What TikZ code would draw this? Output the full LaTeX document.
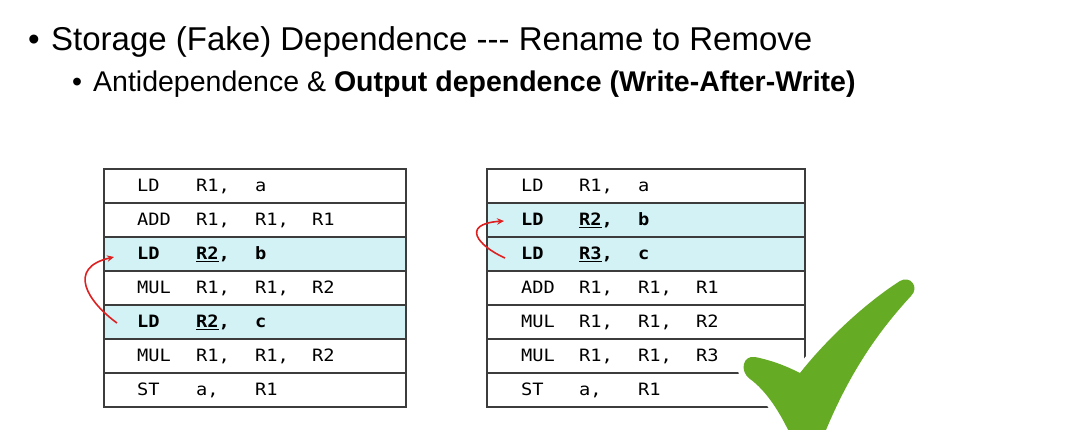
\documentclass[tikz,border=0pt]{standalone}
\usepackage{fontspec}
\setmainfont{Liberation Sans}
\newfontfamily\codefont{DejaVu Sans Mono}[FakeStretch=1.1]
\usetikzlibrary{arrows.meta}

\definecolor{gridline}{RGB}{60,60,60}
\definecolor{hilite}{RGB}{210,242,246}
\definecolor{arrowred}{RGB}{222,32,32}
\definecolor{checkgreen}{RGB}{101,171,36}

\tikzset{
  rowbox/.style={draw=gridline, line width=1.1pt, minimum height=34pt, inner sep=0pt},
  plainrow/.style={rowbox, fill=white},
  hotrow/.style={rowbox, fill=hilite},
  code/.style={anchor=base west, inner sep=0pt, font=\codefont\fontsize{17}{19}\selectfont},
  hotcode/.style={code, font=\codefont\bfseries\fontsize{17}{19}\selectfont},
  heading/.style={anchor=base west, inner sep=0pt},
  depline/.style={draw=arrowred, line width=1.6pt, -{Stealth[length=7pt,width=6.5pt]}},
}

\begin{document}
\begin{tikzpicture}[x=1pt, y=-1pt]
\useasboundingbox (0,0) rectangle (1080,430);
\clip (0,0) rectangle (1080,430);
\fill[white] (0,0) rectangle (1080,430);

% headings
\node[heading, font=\fontsize{33}{38}\selectfont] (b1) at (28,51) {•};
\node[heading, font=\fontsize{33}{38}\selectfont] (title) at (51,51)
  {Storage (Fake) Dependence \hbox{-}\hbox{-}\hbox{-} Rename to Remove};
\node[heading, font=\fontsize{28.5}{34}\selectfont] (b2) at (72,92) {•};
\node[heading, font=\fontsize{28.5}{34}\selectfont] (sub) at (93,92)
  {Antidependence \& \textbf{Output dependence (Write-After-Write)}};

% original code sequence
\begin{scope}[every node/.append style={minimum width=302pt}]
  \node[plainrow] (L1) at (255,186) {};
  \node[plainrow] (L2) at (255,220) {};
  \node[hotrow]   (L3) at (255,254) {};
  \node[plainrow] (L4) at (255,288) {};
  \node[hotrow]   (L5) at (255,322) {};
  \node[plainrow] (L6) at (255,356) {};
  \node[plainrow] (L7) at (255,390) {};
\end{scope}

\node[code] (l1a) at (137,192) {LD};  \node[code] (l1b) at (196,192) {R1,}; \node[code] (l1c) at (255,192) {a};
\node[code] (l2a) at (137,226) {ADD}; \node[code] (l2b) at (196,226) {R1,}; \node[code] (l2c) at (255,226) {R1,}; \node[code] (l2d) at (312,226) {R1};
\node[hotcode] (l3a) at (137,260) {LD}; \node[hotcode] (l3b) at (196,260) {\underline{R2},}; \node[hotcode] (l3c) at (255,260) {b};
\node[code] (l4a) at (137,294) {MUL}; \node[code] (l4b) at (196,294) {R1,}; \node[code] (l4c) at (255,294) {R1,}; \node[code] (l4d) at (312,294) {R2};
\node[hotcode] (l5a) at (137,328) {LD}; \node[hotcode] (l5b) at (196,328) {\underline{R2},}; \node[hotcode] (l5c) at (255,328) {c};
\node[code] (l6a) at (137,362) {MUL}; \node[code] (l6b) at (196,362) {R1,}; \node[code] (l6c) at (255,362) {R1,}; \node[code] (l6d) at (312,362) {R2};
\node[code] (l7a) at (137,396) {ST};  \node[code] (l7b) at (196,396) {a,};  \node[code] (l7c) at (255,396) {R1};

\coordinate (lfrom) at (117,323);
\coordinate (lto) at (114,257);
\draw[depline] (lfrom) .. controls (88,302) and (66,268) .. (lto);

% renamed code sequence
\begin{scope}[every node/.append style={minimum width=318pt}]
  \node[plainrow] (R1) at (646,186) {};
  \node[hotrow]   (R2) at (646,220) {};
  \node[hotrow]   (R3) at (646,254) {};
  \node[plainrow] (R4) at (646,288) {};
  \node[plainrow] (R5) at (646,322) {};
  \node[plainrow] (R6) at (646,356) {};
  \node[plainrow] (R7) at (646,390) {};
\end{scope}

\node[code] (r1a) at (521,192) {LD};  \node[code] (r1b) at (579,192) {R1,}; \node[code] (r1c) at (638,192) {a};
\node[hotcode] (r2a) at (521,226) {LD}; \node[hotcode] (r2b) at (579,226) {\underline{R2},}; \node[hotcode] (r2c) at (638,226) {b};
\node[hotcode] (r3a) at (521,260) {LD}; \node[hotcode] (r3b) at (579,260) {\underline{R3},}; \node[hotcode] (r3c) at (638,260) {c};
\node[code] (r4a) at (521,294) {ADD}; \node[code] (r4b) at (579,294) {R1,}; \node[code] (r4c) at (638,294) {R1,}; \node[code] (r4d) at (696,294) {R1};
\node[code] (r5a) at (521,328) {MUL}; \node[code] (r5b) at (579,328) {R1,}; \node[code] (r5c) at (638,328) {R1,}; \node[code] (r5d) at (696,328) {R2};
\node[code] (r6a) at (521,362) {MUL}; \node[code] (r6b) at (579,362) {R1,}; \node[code] (r6c) at (638,362) {R1,}; \node[code] (r6d) at (696,362) {R3};
\node[code] (r7a) at (521,396) {ST};  \node[code] (r7b) at (579,396) {a,};  \node[code] (r7c) at (638,396) {R1};

\coordinate (rfrom) at (505,258);
\coordinate (rto) at (504,221);
\draw[depline] (rfrom) .. controls (478,246) and (460,224) .. (rto);

% check mark with white halo
\def\checkpath{(755,357) .. controls (775,361) and (790,368) .. (800,373)
  .. controls (830,335) and (870,300) .. (900,281)
  .. controls (910,275) and (920,287) .. (911,296)
  .. controls (875,335) and (845,380) .. (820,445)
  -- (795,445)
  .. controls (780,410) and (765,390) .. (750,379)
  .. controls (739,371) and (743,355) .. (755,357) -- cycle}
\draw[white, line width=12pt, line join=round] \checkpath;
\fill[checkgreen] \checkpath;
\end{tikzpicture}
\end{document}
